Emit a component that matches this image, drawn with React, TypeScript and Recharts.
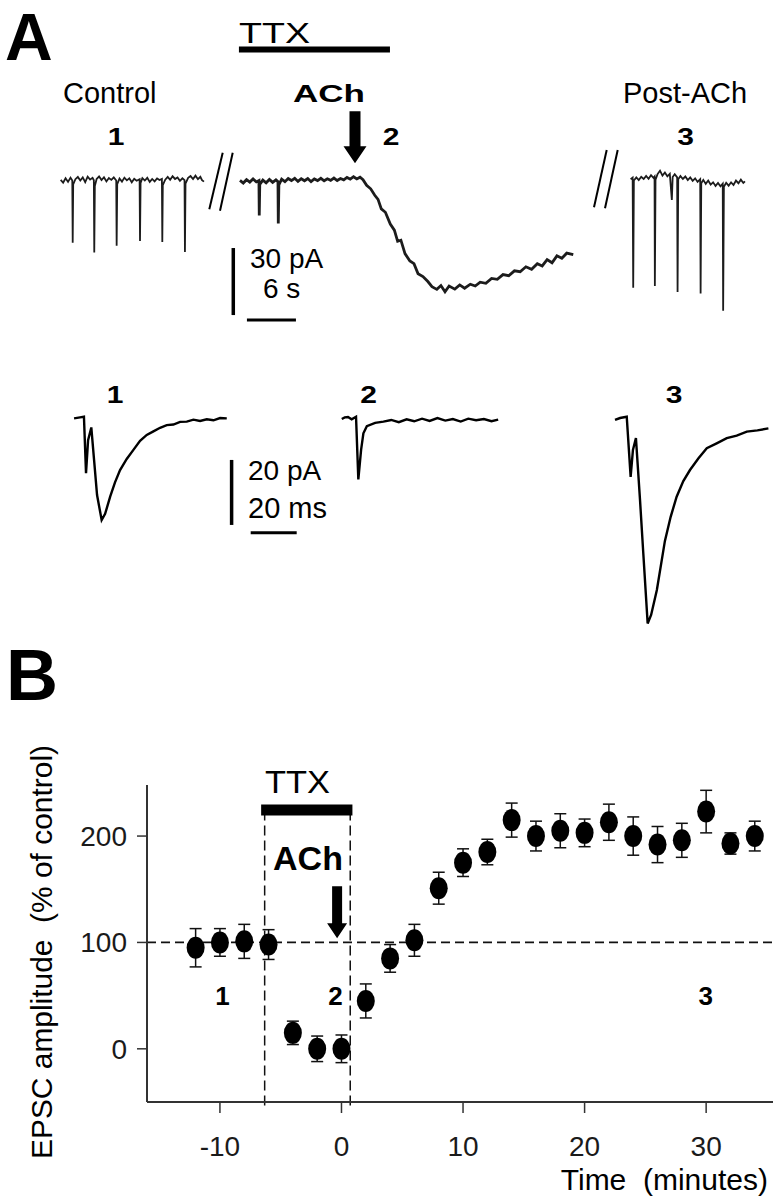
import {
  ScatterChart,
  LineChart,
  Line,
  Scatter,
  ErrorBar,
  XAxis,
  YAxis,
  ReferenceLine,
  ReferenceDot,
} from 'recharts'

const FONT = '"Liberation Sans", Arial, Helvetica, sans-serif'
const INK = '#111'

// ---- panel B: EPSC amplitude (% of control) vs time (minutes)
const minutes = [-12, -10, -8, -6, -4, -2, 0, 2, 4, 6, 8, 10, 12, 14, 16, 18, 20, 22, 24, 26, 28, 30, 32, 34]
const amplitude = [95, 100, 101, 98, 15, 0, 0, 45, 85, 102, 151, 175, 185, 215, 200, 205, 203, 213, 200, 192, 196, 223, 193, 200]
const amplitudeSem = [18, 13, 16, 14, 11, 12, 13, 16, 13, 15, 15, 13, 12, 16, 14, 16, 13, 17, 18, 17, 16, 20, 10, 14]
const timeTicks = [-10, 0, 10, 20, 30]
const amplitudeTicks = [0, 100, 200]

// ---- panel A, top row: spontaneous currents [time s, current pA]
const controlTrace = [
  [0, 0.5], [0.3, -0.8], [0.6, 1.2], [0.9, -0.4], [1.2, 1.5], [1.42, 0.2], [1.47, -27.6], [1.53, -1.5],
  [1.8, 0.8], [2.1, 1.8], [2.4, 0.2], [2.7, 1.6], [3.0, -0.5], [3.3, 1.9], [3.6, 0.6], [3.9, 1.4],
  [4.06, 0.3], [4.11, -32], [4.18, -2.2], [4.4, 0.9], [4.7, 2.0], [5.0, 0.4], [5.3, 1.7], [5.6, -0.2],
  [5.9, 1.3], [6.2, 0.5], [6.5, 1.6], [6.8, 0.2], [6.85, -29], [6.92, -1.4], [7.2, 1.1], [7.5, -0.3],
  [7.8, 1.5], [8.1, 0.3], [8.4, 1.2], [8.7, -0.6], [9.0, 1.0], [9.3, 0.1], [9.66, 0.8], [9.71, -26.9],
  [9.78, -0.9], [10.0, 1.3], [10.3, 0.2], [10.6, 1.4], [10.9, -0.4], [11.2, 0.9], [11.5, -0.2], [11.8, 1.1],
  [12.1, 0.4], [12.39, 0.9], [12.44, -27.3], [12.5, -1.8], [12.8, 0.6], [13.1, 1.8], [13.4, 0.5], [13.7, 2.1],
  [14.0, 0.9], [14.3, 1.6], [14.6, 0.1], [14.9, 1.2], [15.16, 0.4], [15.21, -31.8], [15.28, -1.2], [15.6, 1.4],
  [15.9, 2.2], [16.2, 0.9], [16.5, 2.4], [16.8, 0.8], [17.1, 1.9], [17.3, 0.4], [17.54, -0.3],
]

const ttxAchTrace = [
  [0, 0.3], [0.4, -0.9], [0.8, 0.6], [1.2, -0.5], [1.6, 0.9], [2.0, -0.4], [2.32, 0.2], [2.36, -15.4],
  [2.42, -1.6], [2.8, 0.4], [3.2, -0.8], [3.6, 0.7], [4.0, -0.6], [4.4, 0.5], [4.65, -0.3], [4.69, -19],
  [4.76, -1.8], [5.1, 0.8], [5.5, -0.3], [5.9, 1.1], [6.3, 0.2], [6.7, 1.2], [7.1, -0.2], [7.5, 1.0],
  [7.9, 0.1], [8.3, 1.1], [8.7, -0.3], [9.1, 0.9], [9.5, 0.2], [9.9, 1.2], [10.3, 0.1], [10.7, 1.0],
  [11.1, 0.3], [11.5, 1.3], [11.9, 0.2], [12.3, 1.1], [12.7, 0.5], [13.1, 1.6], [13.5, 0.8], [13.9, 1.9],
  [14.3, 0.9], [14.7, 1.7], [15.06, 0.6], [15.5, -1.9], [16.0, -3.5], [16.5, -6.4], [16.9, -8.2],
  [17.3, -12.5], [17.8, -14.0], [18.4, -19.3], [18.9, -22.0], [19.3, -27.0], [19.7, -26.5], [20.2, -32.5],
  [20.8, -35.8], [21.3, -37.0], [21.8, -41.5], [22.4, -42.8], [23.0, -45.0], [23.5, -47.3], [24.1, -48.5],
  [24.6, -46.8], [25.1, -49.6], [25.6, -47.0], [26.3, -48.4], [26.9, -46.5], [27.5, -48.0], [28.2, -46.2],
  [28.8, -47.0], [29.4, -45.3], [30.1, -45.8], [30.8, -43.6], [31.5, -44.0], [32.2, -41.9], [32.9, -42.4],
  [33.6, -40.2], [34.3, -40.6], [35.0, -38.4], [35.7, -39.5], [36.4, -37.0], [37.0, -38.0], [37.6, -35.2],
  [38.2, -36.6], [38.8, -33.5], [39.4, -34.6], [40.0, -32.3], [40.8, -33.0],
]

const postAchTrace = [
  [0, 0.8], [0.25, 1.5], [0.32, -47.8], [0.4, 0.2], [0.7, 1.6], [1.0, 0.4], [1.3, 1.9], [1.6, 0.9],
  [1.9, 2.3], [2.2, 1.0], [2.5, 2.6], [2.8, 1.4], [2.93, 2.0], [2.97, -47.0], [3.05, 0.6], [3.3, 3.1],
  [3.6, 4.6], [3.9, 2.4], [4.2, 3.8], [4.5, 2.1], [4.8, 3.2], [5.05, -8.5], [5.15, 1.8], [5.4, 3.0],
  [5.7, 1.6], [5.75, -49.7], [5.83, 0.8], [6.1, 2.2], [6.4, 0.9], [6.7, 2.0], [7.0, 0.4], [7.3, 1.6],
  [7.6, 0.1], [7.9, 1.2], [8.2, -0.4], [8.52, 0.8], [8.57, -50.4], [8.65, -1.0], [8.9, 0.5], [9.2, -1.3],
  [9.5, 0.2], [9.8, -1.6], [10.1, -0.6], [10.4, -2.2], [10.7, -0.9], [11.0, -2.4], [11.28, -1.2],
  [11.33, -58.1], [11.42, -2.6], [11.7, -0.8], [12.0, -2.1], [12.3, -0.6], [12.6, -1.8], [12.9, 0.2],
  [13.2, -1.0], [13.5, 0.6], [13.8, -0.9], [14.0, -0.2],
]

// ---- panel A, bottom row: averaged evoked EPSCs [time ms, current pA]
const epscControl = [
  [0, -0.1], [2.6, 0.2], [4.3, 0.4], [5.2, -17], [6.1, -6.8], [7.5, -2.9], [8.7, -12.9], [10, -23.7],
  [12, -31.4], [13.5, -29.5], [15.7, -24.2], [17.8, -19.8], [20, -16], [22.9, -12.6], [25.8, -9.8],
  [28.7, -7.0], [31.6, -5.2], [34.5, -4.1], [37.4, -3.0], [40.3, -2.2], [43.2, -2.0], [46.1, -1.2],
  [49, -1.1], [51.9, -0.5], [54.8, -0.9], [57.7, -0.4], [60.6, -0.7], [63.5, 0.0], [66.4, -0.1],
]

const epscAch = [
  [0, -0.3], [1.3, 0.2], [2.7, 0.3], [4.3, -0.4], [6.2, 0.4], [7.2, -18.9], [8.4, -9.8], [9.4, -4.7],
  [10.9, -2.5], [14.5, -1.5], [18.1, -1.1], [21.5, -0.6], [24.8, -1.3], [28.2, -0.4], [31.5, -1.0],
  [34.9, -0.2], [38.2, -0.9], [41.6, 0.0], [45.0, -0.8], [48.3, -0.3], [51.7, -1.1], [55.0, -0.2],
  [58.4, -0.7], [61.8, -0.3], [65.1, -1.0], [68.0, -0.5],
]

const epscPostAch = [
  [0, -0.6], [2.2, 0], [5.1, 0.4], [6.8, -18.1], [7.8, -9.8], [9.1, -6.2], [10.9, -25.5], [12.3, -41.6],
  [14.2, -63.2], [15.7, -60.6], [18.2, -52.9], [21.7, -37.8], [24.2, -30.4], [26.8, -24.2], [29.7, -19.4],
  [32.6, -16], [36.3, -12.4], [39.9, -9.3], [44.2, -7.8], [48.6, -6.2], [52.9, -5.4], [57.3, -4.2],
  [61.9, -3.8], [66.7, -3.2],
]

// layout (chart units) -------------------------------------------------------
const TOP_DOMAIN_S: [number, number] = [0, 95]
const TOP_DOMAIN_PA: [number, number] = [-64, 81]
const EPSC_DOMAIN_MS: [number, number] = [0, 337.4]
const EPSC_DOMAIN_PA: [number, number] = [-68.3, 17.85]

const toPoints = (arr: number[][], offset: number) => arr.map(([t, v]) => ({ t: t + offset, v }))

const arrowShape = (shaft: number, half: number, head: number, headHalf: number) => (props: any) => {
  const { cx, cy } = props
  const d = `M${cx - half},${cy - head - shaft} L${cx + half},${cy - head - shaft} L${cx + half},${cy - head} L${cx + headHalf},${cy - head} L${cx},${cy} L${cx - headHalf},${cy - head} L${cx - half},${cy - head} Z`
  return <path d={d} fill='#000' />
}

const marker = (props: any) => <ellipse cx={props.cx} cy={props.cy} rx={9} ry={11} fill='#000' />

function SpontaneousRow() {
  const traceProps = { dataKey: 'v', dot: false, activeDot: false, stroke: '#1c1c1c', isAnimationActive: false }
  return (
    <LineChart width={776} height={324} margin={{ top: 0, right: 0, bottom: 0, left: 0 }}>
      <XAxis type='number' dataKey='t' domain={TOP_DOMAIN_S} hide allowDataOverflow />
      <YAxis type='number' domain={TOP_DOMAIN_PA} hide allowDataOverflow />
      <Line data={toPoints(controlTrace, 7.43)} strokeWidth={1.8} {...traceProps} />
      <Line data={toPoints(ttxAchTrace, 29.38)} strokeWidth={2.8} {...traceProps} />
      <Line data={toPoints(postAchTrace, 77.2)} strokeWidth={1.8} {...traceProps} />
      {/* TTX application bar */}
      <ReferenceLine segment={[{ x: 29.25, y: 58.8 }, { x: 47.74, y: 58.8 }]} stroke='#000' strokeWidth={6} />
      <ReferenceDot x={43.46} y={7.9} r={0} shape={arrowShape(35, 5.5, 17, 11.5)} />
      {/* scale bar: 30 pA, 6 s */}
      <ReferenceLine segment={[{ x: 28.56, y: -30 }, { x: 28.56, y: -60 }]} stroke='#000' strokeWidth={3.5} />
      <ReferenceLine segment={[{ x: 30.23, y: -62.2 }, { x: 36.23, y: -62.2 }]} stroke='#000' strokeWidth={3} />
    </LineChart>
  )
}

function EvokedRow() {
  const traceProps = { dataKey: 'v', dot: false, activeDot: false, stroke: '#000', strokeWidth: 2.4, isAnimationActive: false }
  return (
    <LineChart width={776} height={280} margin={{ top: 0, right: 0, bottom: 0, left: 0 }}>
      <XAxis type='number' dataKey='t' domain={EPSC_DOMAIN_MS} hide allowDataOverflow />
      <YAxis type='number' domain={EPSC_DOMAIN_PA} hide allowDataOverflow />
      <Line data={toPoints(epscControl, 32.2)} {...traceProps} />
      <Line data={toPoints(epscAch, 148.6)} {...traceProps} />
      <Line data={toPoints(epscPostAch, 267.4)} {...traceProps} />
      {/* scale bar: 20 pA, 20 ms */}
      <ReferenceLine segment={[{ x: 100.7, y: -12.9 }, { x: 100.7, y: -32.9 }]} stroke='#000' strokeWidth={3.5} />
      <ReferenceLine segment={[{ x: 109, y: -35.3 }, { x: 129, y: -35.3 }]} stroke='#000' strokeWidth={3} />
    </LineChart>
  )
}

function AmplitudePlot() {
  const data = minutes.map((t, i) => ({ t, amp: amplitude[i], err: amplitudeSem[i] }))
  const tick = { fontSize: 28, fill: '#1a1a1a', fontFamily: FONT }
  return (
    <ScatterChart width={776} height={499} margin={{ top: 85, right: 3, bottom: 37, left: 0 }}>
      <XAxis
        type='number'
        dataKey='t'
        domain={[-16, 35.5]}
        ticks={timeTicks}
        tickSize={11}
        tickMargin={23}
        height={60}
        tick={tick}
        axisLine={{ stroke: '#333', strokeWidth: 2 }}
        tickLine={{ stroke: '#333', strokeWidth: 1.5 }}
        allowDataOverflow
      />
      <YAxis
        type='number'
        dataKey='amp'
        domain={[-50, 248]}
        ticks={amplitudeTicks}
        tickSize={10}
        tickMargin={10}
        width={147}
        tick={tick}
        axisLine={{ stroke: '#333', strokeWidth: 2 }}
        tickLine={{ stroke: '#333', strokeWidth: 1.5 }}
        allowDataOverflow
      />
      <ReferenceLine y={100} stroke={INK} strokeWidth={1.8} strokeDasharray='9 5' />
      <ReferenceLine segment={[{ x: -6.32, y: 224 }, { x: -6.32, y: -58 }]} ifOverflow='visible' stroke={INK} strokeWidth={1.5} strokeDasharray='10 5' />
      <ReferenceLine segment={[{ x: 0.72, y: 224 }, { x: 0.72, y: -58 }]} ifOverflow='visible' stroke={INK} strokeWidth={1.5} strokeDasharray='10 5' />
      <ReferenceLine segment={[{ x: -6.61, y: 224.4 }, { x: 0.9, y: 224.4 }]} stroke='#000' strokeWidth={11} />
      <ReferenceDot x={-0.36} y={103.9} r={0} shape={arrowShape(37, 5, 15, 10)} />
      <Scatter data={data} dataKey='amp' shape={marker} isAnimationActive={false}>
        <ErrorBar dataKey='err' direction='y' width={6} stroke={INK} strokeWidth={1.5} />
      </Scatter>
    </ScatterChart>
  )
}

function Labels() {
  const txt = { fontFamily: FONT, fill: '#000' }
  const bold = { ...txt, fontWeight: 700 }
  const num = (x: number, y: number, s: string, k = 1.25) => (
    <text transform={`translate(${x},${y}) scale(${k},1)`} textAnchor='middle' fontSize={24} {...bold}>{s}</text>
  )
  return (
    <svg width={776} height={1199} style={{ position: 'absolute', left: 0, top: 0, pointerEvents: 'none' }}>
      <text x={5} y={60} fontSize={66} {...bold}>A</text>
      <text x={6} y={700} fontSize={72} {...bold}>B</text>

      <text x={239} y={43} fontSize={29} textLength={71} lengthAdjust='spacingAndGlyphs' {...txt}>TTX</text>
      <text x={63} y={103} fontSize={29} {...txt}>Control</text>
      <text x={293} y={102} fontSize={24} textLength={72} lengthAdjust='spacingAndGlyphs' {...bold}>ACh</text>
      <text x={623} y={103} fontSize={29} {...txt}>Post-ACh</text>
      {num(116, 145, '1')}
      {num(391, 145, '2')}
      {num(685.5, 145, '3')}

      <g stroke='#000' strokeWidth={2}>
        <line x1={209.3} y1={209.3} x2={222.7} y2={152.7} />
        <line x1={220} y1={210.7} x2={232.7} y2={152.7} />
        <line x1={594} y1={207.3} x2={606.7} y2={150} />
        <line x1={605} y1={208.3} x2={617.7} y2={150} />
      </g>
      <text x={250} y={268} fontSize={28} {...txt}>30 pA</text>
      <text x={263} y={298} fontSize={28} {...txt}>6 s</text>

      {num(115, 403, '1')}
      {num(368.5, 403, '2')}
      {num(674, 403, '3')}
      <text x={248} y={480} fontSize={28} {...txt}>20 pA</text>
      <text x={248} y={518} fontSize={29} {...txt}>20 ms</text>

      <text x={265} y={793} fontSize={32} textLength={65} lengthAdjust='spacingAndGlyphs' {...txt}>TTX</text>
      <text x={308} y={870} fontSize={34} textAnchor='middle' {...bold}>ACh</text>
      <text x={222.5} y={1005} fontSize={26} textAnchor='middle' {...bold}>1</text>
      <text x={335.5} y={1005} fontSize={26} textAnchor='middle' {...bold}>2</text>
      <text x={705.7} y={1005} fontSize={26} textAnchor='middle' {...bold}>3</text>
      <text
        transform='translate(51.7,952) rotate(-90)'
        textAnchor='middle'
        fontSize={30}
        textLength={414}
        lengthAdjust='spacingAndGlyphs'
        style={{ whiteSpace: 'pre' }}
        {...txt}
      >
        EPSC amplitude  (% of control)
      </text>
      <text x={768} y={1190} fontSize={30} textAnchor='end' style={{ whiteSpace: 'pre' }} {...txt}>
        Time  (minutes)
      </text>
    </svg>
  )
}

export default function App() {
  return (
    <div style={{ position: 'relative', width: 776, height: 1199, background: '#fff', fontFamily: FONT }}>
      <style>{'body{margin:0}'}</style>
      <div style={{ position: 'absolute', left: 0, top: 0 }}>
        <SpontaneousRow />
      </div>
      <div style={{ position: 'absolute', left: 0, top: 360 }}>
        <EvokedRow />
      </div>
      <div style={{ position: 'absolute', left: 0, top: 700 }}>
        <AmplitudePlot />
      </div>
      <Labels />
    </div>
  )
}
